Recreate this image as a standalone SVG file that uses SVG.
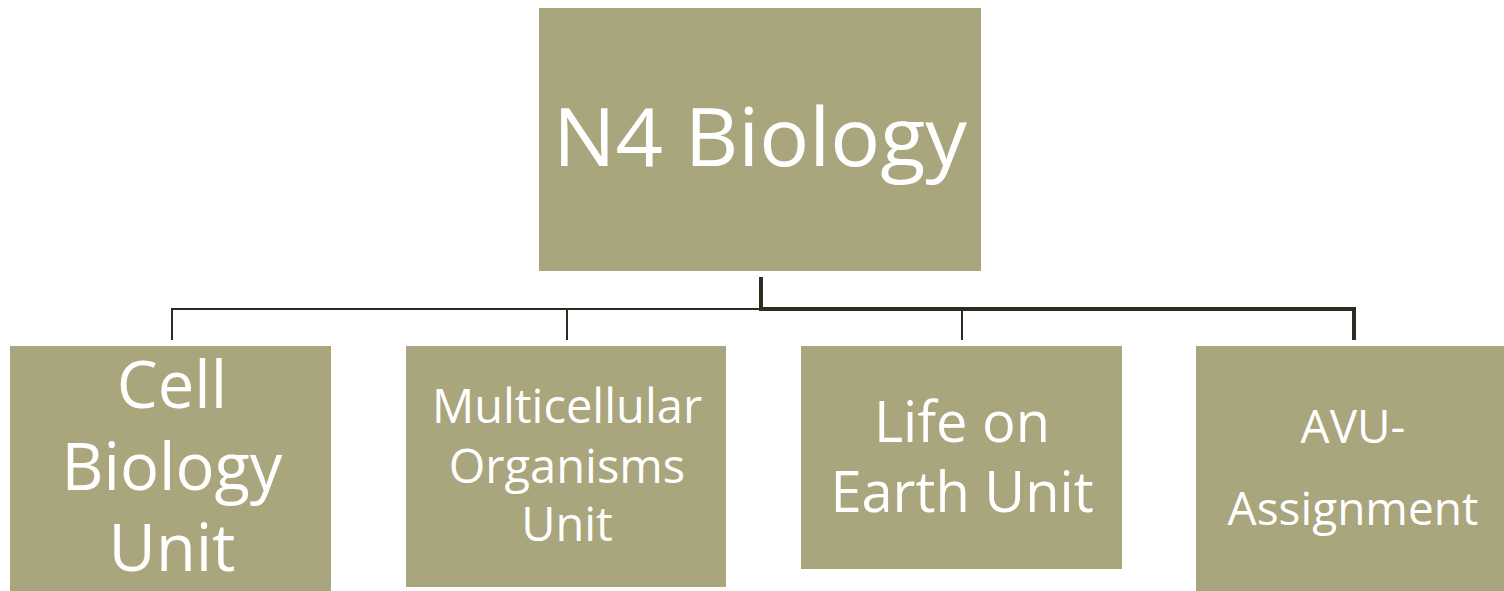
<svg xmlns="http://www.w3.org/2000/svg" width="1504" height="591" viewBox="0 0 1504 591">
<style>
.box{fill:#A9A57C;}
.t{fill:#FFFFFF;font-family:"Open Sans","Liberation Sans",sans-serif;text-anchor:middle;}
.thin{stroke:#2F2B20;stroke-width:2;fill:none;}
.thick{stroke:#2F2B20;stroke-width:4;fill:none;}
</style>
<rect width="1504" height="591" fill="#FFFFFF"/>
<g id="connectors">
<polyline class="thin" points="172,340 172,309 761,309"/>
<line class="thin" x1="567" y1="309" x2="567" y2="340"/>
<line class="thin" x1="962" y1="309" x2="962" y2="340"/>
<polyline class="thick" points="761,277 761,309 1354,309 1354,340"/>
</g>
<g id="root">
<rect class="box" x="539" y="8" width="442" height="263"/>
<text class="t" x="760" y="166" font-size="81" textLength="414" lengthAdjust="spacingAndGlyphs">N4 Biology</text>
</g>
<g id="cell">
<rect class="box" x="10" y="346" width="321" height="245"/>
<text class="t" font-size="65"><tspan x="172" y="408">Cell</tspan><tspan x="172" y="490">Biology</tspan><tspan x="172" y="571">Unit</tspan></text>
</g>
<g id="multi">
<rect class="box" x="406" y="346" width="320" height="241"/>
<text class="t" font-size="47"><tspan x="567" y="423">Multicellular</tspan><tspan x="567" y="483">Organisms</tspan><tspan x="567" y="541">Unit</tspan></text>
</g>
<g id="life">
<rect class="box" x="801" y="346" width="321" height="223"/>
<text class="t" font-size="56"><tspan x="962" y="442">Life on</tspan><tspan x="962" y="512">Earth Unit</tspan></text>
</g>
<g id="avu">
<rect class="box" x="1196" y="346" width="308" height="245"/>
<text class="t" font-size="46"><tspan x="1353" y="443">AVU-</tspan><tspan x="1353" y="525">Assignment</tspan></text>
</g>
</svg>
